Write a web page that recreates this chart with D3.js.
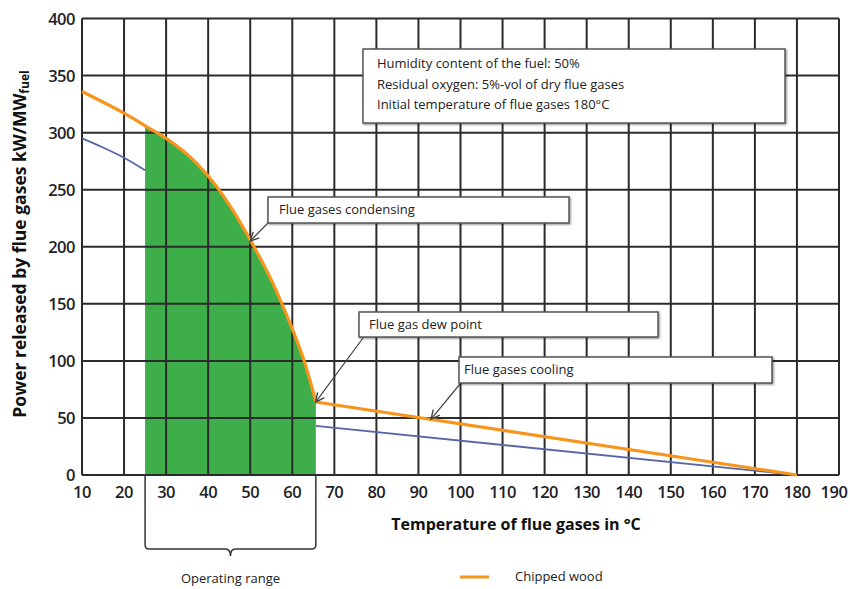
<!DOCTYPE html>
<html>
<head>
<meta charset="utf-8">
<script src="https://cdn.jsdelivr.net/npm/d3@7"></script>
<style>
  body { margin: 0; background: #fff; }
  svg { display: block; font-family: "Open Sans", sans-serif; }
  .tick-label { font-size: 16.5px; font-weight: 600; fill: #1e1e28; letter-spacing: -0.5px; }
  .axis-title { font-size: 16px; font-weight: 700; fill: #111; }
  .note { font-size: 13px; fill: #222; }
</style>
</head>
<body>
<div id="chart"></div>
<script>
// ticks
var xTicks = [10, 20, 30, 40, 50, 60, 70, 80, 90, 100, 110, 120, 130, 140, 150, 160, 170, 180, 190];
var yTicks = [0, 50, 100, 150, 200, 250, 300, 350, 400];

// chipped wood, condensing part
var condX = [10, 20, 25, 30, 35, 40, 45, 50, 55, 60, 63, 65.6];
var condY = [336, 317, 306, 295, 281, 262, 237, 206, 171, 128, 98, 64];
// chipped wood, cooling part
var coolX = [65.6, 180];
var coolY = [64, 0];

// lower (blue) curve, visible parts only
var blueX1 = [10, 15, 20, 25];
var blueY1 = [295, 287, 278, 267];
var blueX2 = [65.6, 180];
var blueY2 = [43, 0];

// operating range
var opRange = [25, 65.6];

var width = 850, height = 589;

var svg = d3.select("#chart").append("svg")
    .attr("width", width)
    .attr("height", height);

var x = d3.scaleLinear().domain([10, 190]).range([82, 839]);
var y = d3.scaleLinear().domain([0, 400]).range([475, 18.5]);

function pts(xs, ys) {
    return xs.map((d, i) => ({x: d, y: ys[i]}));
}

var condPts = pts(condX, condY);
var coolPts = pts(coolX, coolY);
var smooth = d3.curveCatmullRom.alpha(0.5);

// green operating area
var greenPts = condPts.filter(d => d.x >= opRange[0] && d.x <= opRange[1]);
var area = d3.area()
    .x(d => x(d.x))
    .y0(y(0))
    .y1(d => y(d.y))
    .curve(smooth);

svg.append("path")
    .datum(greenPts)
    .attr("d", area)
    .attr("fill", "#3dae49");

// grid
var grid = svg.append("g").attr("stroke", "#2b2b2b").attr("stroke-width", 2);
grid.selectAll(".vx")
    .data(xTicks)
    .enter().append("line")
    .attr("x1", d => x(d)).attr("x2", d => x(d))
    .attr("y1", y(400)).attr("y2", y(0));
grid.selectAll(".hy")
    .data(yTicks)
    .enter().append("line")
    .attr("x1", x(10)).attr("x2", x(190))
    .attr("y1", d => y(d)).attr("y2", d => y(d));

// curves
var straight = d3.line().x(d => x(d.x)).y(d => y(d.y));
var curved = d3.line().x(d => x(d.x)).y(d => y(d.y)).curve(smooth);

svg.append("path")
    .datum(pts(blueX1, blueY1))
    .attr("d", curved)
    .attr("fill", "none")
    .attr("stroke", "#5866a8")
    .attr("stroke-width", 1.8);
svg.append("path")
    .datum(pts(blueX2, blueY2))
    .attr("d", straight)
    .attr("fill", "none")
    .attr("stroke", "#5866a8")
    .attr("stroke-width", 1.8);

svg.append("path")
    .datum(condPts)
    .attr("d", curved)
    .attr("fill", "none")
    .attr("stroke", "#f7941d")
    .attr("stroke-width", 3.2);
svg.append("path")
    .datum(coolPts)
    .attr("d", straight)
    .attr("fill", "none")
    .attr("stroke", "#f7941d")
    .attr("stroke-width", 3.2);

// tick labels
svg.selectAll(".ylab")
    .data(yTicks)
    .enter().append("text")
    .attr("class", "tick-label")
    .attr("x", 75)
    .attr("y", d => y(d) + 6)
    .attr("text-anchor", "end")
    .text(d => d);

svg.selectAll(".xlab")
    .data(xTicks)
    .enter().append("text")
    .attr("class", "tick-label")
    .attr("x", d => Math.min(x(d), 834))
    .attr("y", 498)
    .attr("text-anchor", "middle")
    .text(d => d);

// axis titles
svg.append("text")
    .attr("class", "axis-title")
    .attr("x", 516)
    .attr("y", 530)
    .attr("text-anchor", "middle")
    .text("Temperature of flue gases in \u00b0C");

var yt = svg.append("text")
    .attr("class", "axis-title")
    .style("font-size", "17.5px")
    .attr("transform", "translate(26,244) rotate(-90)")
    .attr("text-anchor", "middle");
yt.append("tspan").text("Power released by flue gases kW/MW");
yt.append("tspan").attr("dy", 3).style("font-size", "12px").text("fuel");

// operating range bracket
var bx0 = x(opRange[0]), bx1 = x(opRange[1]), bmid = (bx0 + bx1) / 2;
svg.append("path")
    .attr("d", "M" + bx0 + "," + y(0) + " V545 Q" + bx0 + ",549 " + (bx0 + 4) + ",549"
        + " H" + (bmid - 5) + " Q" + bmid + ",549 " + bmid + ",556"
        + " Q" + bmid + ",549 " + (bmid + 5) + ",549"
        + " H" + (bx1 - 4) + " Q" + bx1 + ",549 " + bx1 + ",545 V" + y(0))
    .attr("fill", "none")
    .attr("stroke", "#333")
    .attr("stroke-width", 1.5);

svg.append("text")
    .attr("class", "note")
    .attr("x", bmid)
    .attr("y", 583)
    .attr("text-anchor", "middle")
    .text("Operating range");

// legend
svg.append("line")
    .attr("x1", 460).attr("x2", 489)
    .attr("y1", 577).attr("y2", 577)
    .attr("stroke", "#f7941d")
    .attr("stroke-width", 3);
svg.append("text")
    .attr("class", "note")
    .attr("x", 515)
    .attr("y", 581)
    .text("Chipped wood");

// annotation boxes
var defs = svg.append("defs");
defs.append("filter").attr("id", "shadow")
    .append("feDropShadow")
    .attr("dx", 1).attr("dy", 1).attr("stdDeviation", 0.8)
    .attr("flood-color", "#000").attr("flood-opacity", 0.45);
defs.append("marker")
    .attr("id", "arrow")
    .attr("viewBox", "0 0 10 10")
    .attr("refX", 9).attr("refY", 5)
    .attr("markerWidth", 9).attr("markerHeight", 9)
    .attr("orient", "auto")
    .append("path")
    .attr("d", "M1,1 L9,5 L1,9")
    .attr("fill", "none")
    .attr("stroke", "#444")
    .attr("stroke-width", 1.3);

function box(x0, y0, x1, y1) {
    svg.append("rect")
        .attr("x", x0).attr("y", y0)
        .attr("width", x1 - x0).attr("height", y1 - y0)
        .attr("fill", "#fff")
        .attr("stroke", "#555")
        .attr("stroke-width", 1.5)
        .attr("filter", "url(#shadow)");
}

function arrow(x0, y0, tx, ty) {
    svg.append("line")
        .attr("x1", x0).attr("y1", y0)
        .attr("x2", x(tx)).attr("y2", y(ty))
        .attr("stroke", "#444")
        .attr("stroke-width", 1.2)
        .attr("marker-end", "url(#arrow)");
}

box(363, 49, 785, 123);
var info = ["Humidity content of the fuel: 50%",
            "Residual oxygen: 5%-vol of dry flue gases",
            "Initial temperature of flue gases 180\u00b0C"];
svg.selectAll(".info")
    .data(info)
    .enter().append("text")
    .attr("class", "note")
    .attr("x", 377)
    .attr("y", (d, i) => 68 + i * 20.5)
    .text(d => d);

box(268, 197, 569, 223);
svg.append("text").attr("class", "note").attr("x", 279).attr("y", 214).text("Flue gases condensing");
arrow(268, 223, 50, 205);

box(359, 312, 658, 337);
svg.append("text").attr("class", "note").attr("x", 369).attr("y", 329).text("Flue gas dew point");
arrow(363, 338, 65.6, 64);

box(459, 357, 772, 383);
svg.append("text").attr("class", "note").attr("x", 464).attr("y", 374).text("Flue gases cooling");
arrow(460, 384, 93, 49);
</script>
</body>
</html>
